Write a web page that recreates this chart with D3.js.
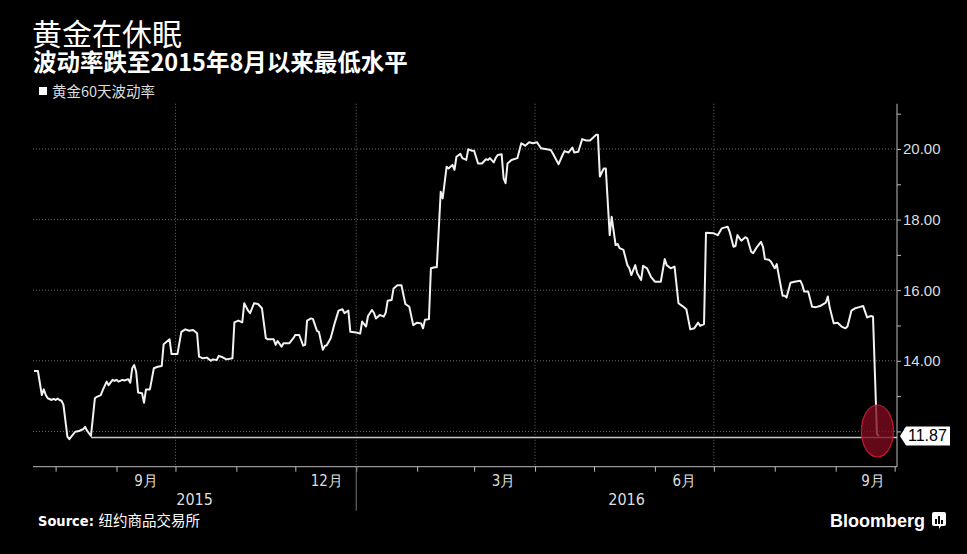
<!DOCTYPE html>
<html><head><meta charset="utf-8">
<script src="https://cdnjs.cloudflare.com/ajax/libs/d3/7.8.5/d3.min.js"></script>
<style>
html,body{margin:0;padding:0;background:#000;}
svg{display:block;}
</style></head>
<body>
<svg id="chart" width="967" height="554"></svg>
<script>
const titleText = "黄金在休眠";
const subtitleText = "波动率跌至2015年8月以来最低水平";
const seriesName = "黄金60天波动率";
const sourceText = "纽约商品交易所";
const lastLabel = "11.87";
const lowLevel = 11.87;
const lowStart = "2015-08-19";

const dates = [
"2015-07-21","2015-07-23","2015-07-25","2015-07-26","2015-07-27","2015-07-28","2015-07-30","2015-07-31",
"2015-08-01","2015-08-02","2015-08-03","2015-08-04","2015-08-05","2015-08-07","2015-08-08","2015-08-09",
"2015-08-11","2015-08-13","2015-08-14","2015-08-15","2015-08-16","2015-08-17","2015-08-19","2015-08-21",
"2015-08-22","2015-08-24","2015-08-25","2015-08-26","2015-08-27","2015-08-28","2015-08-30","2015-08-31",
"2015-09-01","2015-09-02","2015-09-04","2015-09-05","2015-09-07","2015-09-08","2015-09-09","2015-09-10",
"2015-09-11","2015-09-12","2015-09-14","2015-09-15","2015-09-16","2015-09-18","2015-09-20","2015-09-22",
"2015-09-24","2015-09-25","2015-09-28","2015-09-29","2015-10-02","2015-10-04","2015-10-06","2015-10-08",
"2015-10-10","2015-10-12","2015-10-13","2015-10-15","2015-10-17","2015-10-19","2015-10-20","2015-10-22",
"2015-10-23","2015-10-25","2015-10-27","2015-10-30","2015-10-31","2015-11-02","2015-11-04","2015-11-05",
"2015-11-07","2015-11-08","2015-11-10","2015-11-12","2015-11-14","2015-11-16","2015-11-17","2015-11-20",
"2015-11-21","2015-11-22","2015-11-24","2015-11-25","2015-11-26","2015-11-28","2015-11-30","2015-12-01",
"2015-12-03","2015-12-05","2015-12-06","2015-12-07","2015-12-09","2015-12-10","2015-12-12","2015-12-13",
"2015-12-15","2015-12-16","2015-12-17","2015-12-19","2015-12-21","2015-12-23","2015-12-25","2015-12-26",
"2015-12-28","2015-12-29","2016-01-01","2016-01-03","2016-01-04","2016-01-06","2016-01-07","2016-01-09",
"2016-01-10","2016-01-11","2016-01-13","2016-01-15","2016-01-16","2016-01-17","2016-01-19","2016-01-20",
"2016-01-22","2016-01-24","2016-01-26","2016-01-28","2016-01-30","2016-02-01","2016-02-03","2016-02-04",
"2016-02-05","2016-02-07","2016-02-08","2016-02-10","2016-02-11","2016-02-13","2016-02-14","2016-02-16",
"2016-02-17","2016-02-19","2016-02-20","2016-02-21","2016-02-23","2016-02-24","2016-02-26","2016-02-27",
"2016-02-29","2016-03-01","2016-03-03","2016-03-05","2016-03-07","2016-03-08","2016-03-09","2016-03-11",
"2016-03-12","2016-03-13","2016-03-15","2016-03-16","2016-03-17","2016-03-18","2016-03-20","2016-03-23",
"2016-03-25","2016-03-26","2016-03-27","2016-03-29","2016-03-31","2016-04-02","2016-04-04","2016-04-07",
"2016-04-09","2016-04-10","2016-04-13","2016-04-15","2016-04-16","2016-04-18","2016-04-20","2016-04-21",
"2016-04-23","2016-04-25","2016-04-27","2016-04-29","2016-05-02","2016-05-03","2016-05-04","2016-05-06",
"2016-05-07","2016-05-09","2016-05-10","2016-05-12","2016-05-13","2016-05-14","2016-05-16","2016-05-18",
"2016-05-19","2016-05-20","2016-05-22","2016-05-23","2016-05-25","2016-05-26","2016-05-28","2016-05-30",
"2016-06-01","2016-06-04","2016-06-06","2016-06-07","2016-06-09","2016-06-11","2016-06-13","2016-06-15",
"2016-06-17","2016-06-19","2016-06-21","2016-06-23","2016-06-24","2016-06-26","2016-06-27","2016-07-01",
"2016-07-03","2016-07-05","2016-07-08","2016-07-09","2016-07-11","2016-07-12","2016-07-13","2016-07-15",
"2016-07-17","2016-07-18","2016-07-20","2016-07-21","2016-07-23","2016-07-25","2016-07-26","2016-07-27",
"2016-07-29","2016-07-30","2016-08-01","2016-08-02","2016-08-03","2016-08-05","2016-08-06","2016-08-07",
"2016-08-09","2016-08-11","2016-08-14","2016-08-15","2016-08-16","2016-08-18","2016-08-20","2016-08-22",
"2016-08-24","2016-08-27","2016-08-28","2016-08-29","2016-08-31","2016-09-02","2016-09-04","2016-09-06",
"2016-09-07","2016-09-09","2016-09-11","2016-09-13","2016-09-15","2016-09-17","2016-09-19","2016-09-20",
"2016-09-22","2016-09-23"
];
const values = [
13.71,13.71,13.03,13.19,13.03,12.94,12.89,12.92,
12.89,12.93,12.89,12.87,12.75,11.85,11.78,11.85,
11.99,12.01,12.04,12.06,12.13,12.02,11.87,12.94,
12.98,13.03,13.17,13.29,13.41,13.31,13.46,13.43,
13.46,13.41,13.46,13.44,13.48,13.38,13.79,13.88,
13.69,13.10,13.08,12.81,13.19,13.19,13.79,13.83,
13.85,14.47,14.61,14.19,14.19,14.82,14.89,14.85,
14.87,14.78,14.12,14.07,14.09,14.00,14.04,14.02,
14.14,14.10,14.04,14.07,15.09,15.14,15.09,15.63,
15.42,15.35,15.63,15.61,15.49,14.64,14.61,14.61,
14.45,14.56,14.40,14.50,14.50,14.50,14.64,14.73,
14.73,14.43,14.45,15.14,15.20,15.18,14.85,14.82,
14.31,14.42,14.44,14.64,15.06,15.42,15.46,15.35,
15.42,14.82,14.80,14.77,15.11,14.97,15.27,15.44,
15.36,15.20,15.30,15.25,15.36,15.70,15.72,16.05,
16.14,16.14,15.61,15.53,15.01,15.08,15.06,14.92,
15.16,15.18,16.62,16.65,16.65,18.79,18.60,19.50,
19.45,19.55,19.41,19.78,19.86,19.74,19.69,19.99,
19.95,19.95,19.59,19.59,19.71,19.69,19.74,19.62,
19.75,19.83,19.85,19.17,19.03,19.59,19.69,19.74,
20.16,20.13,20.09,20.19,20.16,20.19,20.02,19.99,
19.97,19.88,19.57,19.83,19.94,19.90,20.04,19.90,
19.92,20.28,20.24,20.24,20.40,20.40,19.22,19.45,
19.45,17.56,18.08,17.28,17.31,17.19,17.14,16.71,
16.62,16.43,16.71,16.48,16.29,16.69,16.62,16.38,
16.24,16.24,16.88,16.71,16.62,16.67,15.63,15.55,
15.46,14.89,14.92,15.08,14.99,15.04,17.63,17.61,
17.56,17.75,17.80,17.66,17.23,17.25,17.56,17.40,
17.50,17.47,17.09,17.05,17.23,17.37,17.23,16.88,
16.86,16.81,16.62,16.74,16.43,15.84,15.84,15.79,
16.21,16.24,16.27,16.15,15.96,15.96,15.53,15.52,
15.55,15.65,15.82,15.50,15.06,15.08,14.97,14.92,
14.97,15.42,15.49,15.52,15.55,15.23,15.27,15.25,
11.93,11.87
];

// axis definitions
const yTickValues = [12,13,14,15,16,17,18,19,20,21];
const yLabelValues = [12,14,16,18,20];
const gridDates = ["2015-10-01","2016-01-01","2016-04-01","2016-07-01"];
const monthLabels = ["9月","12月","3月","6月","9月"];
const monthLabelDates = ["2015-09-16","2015-12-17","2016-03-16","2016-06-16","2016-09-20"];
const yearLabels = ["2015","2016"];
const yearBoundary = "2016-01-01";
const xDomain = ["2015-07-20T12:00Z","2016-10-02T05:00Z"];
const yDomain = [11, 21.28];

const parse = s => new Date(s.length === 10 ? s + "T00:00:00Z" : s);
const data = dates.map((d,i) => ({date: parse(d), value: values[i]}));

const svg = d3.select("#chart");
const W = 967, H = 554;
const plot = {left: 33, right: 897, top: 103.8, bottom: 466.7};

svg.append("rect").attr("width", W).attr("height", H).attr("fill", "#000");

const x = d3.scaleUtc().domain(xDomain.map(parse)).range([plot.left, plot.right]);
const y = d3.scaleLinear().domain(yDomain).range([plot.bottom, plot.top]);

const narrow = '"Liberation Sans Narrow","DejaVu Sans Condensed","Liberation Sans",sans-serif';
const cjk = '"Noto Sans CJK SC","Noto Sans",sans-serif';

// Title
svg.append("text").attr("x", 32).attr("y", 45)
  .attr("fill", "#fff").attr("font-family", cjk).attr("font-size", 30).attr("font-weight", 400)
  .text(titleText);
svg.append("text").attr("x", 33).attr("y", 71)
  .attr("fill", "#fff").attr("font-family", '"Noto Sans CJK SC","Open Sans",sans-serif').attr("font-size", 23.5).attr("font-weight", 700)
  .text(subtitleText);

// legend
svg.append("rect").attr("x", 39).attr("y", 87).attr("width", 8).attr("height", 8).attr("fill", "#fff");
svg.append("text").attr("x", 52).attr("y", 97).attr("fill", "#ddd")
  .attr("font-family", cjk).attr("font-size", 14.5).text(seriesName);

// grid
const grid = svg.append("g");
grid.selectAll("line.h").data(yLabelValues).join("line")
  .attr("x1", plot.left).attr("x2", plot.right)
  .attr("y1", d => y(d)).attr("y2", d => y(d))
  .attr("stroke", "#6a6a6a").attr("stroke-width", 1).attr("stroke-dasharray", "1,2");
grid.selectAll("line.v").data(gridDates).join("line")
  .attr("x1", d => x(parse(d))).attr("x2", d => x(parse(d)))
  .attr("y1", plot.top).attr("y2", plot.bottom)
  .attr("stroke", "#6a6a6a").attr("stroke-width", 1).attr("stroke-dasharray", "1,2");

// right axis
const yAxis = d3.axisRight(y).tickValues(yTickValues).tickSize(4)
  .tickFormat(d => yLabelValues.includes(d) ? d3.format(".2f")(d) : "");
const gy = svg.append("g").attr("transform", `translate(${plot.right},0)`).call(yAxis);
gy.select(".domain").attr("stroke", "#bbb").attr("d", `M0,${plot.top}V${plot.bottom}`);
gy.selectAll(".tick line").attr("stroke", "#bbb");
gy.selectAll(".tick text").attr("fill", "#ddd").attr("font-family", '"Liberation Sans",sans-serif')
  .attr("font-size", 15).attr("x", 6);

// bottom axis
const monthTicks = d3.utcMonth.range(parse("2015-08-01"), parse("2016-10-02"));
const xAxis = d3.axisBottom(x).tickValues(monthTicks).tickSize(5).tickFormat("");
const gx = svg.append("g").attr("transform", `translate(0,${plot.bottom})`).call(xAxis);
gx.select(".domain").attr("stroke", "#bbb").attr("d", `M${plot.left},0H${plot.right}`);
gx.selectAll(".tick line").attr("stroke", "#bbb");
svg.append("line").attr("x1", x(parse(yearBoundary))).attr("x2", x(parse(yearBoundary)))
  .attr("y1", plot.bottom).attr("y2", plot.bottom + 44).attr("stroke", "#777").attr("stroke-width", 1);

svg.append("g").selectAll("text").data(monthLabels).join("text")
  .attr("x", (d,i) => x(parse(monthLabelDates[i]))).attr("y", plot.bottom + 19)
  .attr("text-anchor", "middle").attr("fill", "#ddd")
  .attr("font-family", narrow).attr("font-size", 15).text(d => d);

const yearCenters = [
  (plot.left + x(parse(yearBoundary))) / 2,
  (x(parse(yearBoundary)) + plot.right) / 2
];
svg.append("g").selectAll("text").data(yearLabels).join("text")
  .attr("x", (d,i) => yearCenters[i]).attr("y", plot.bottom + 38)
  .attr("text-anchor", "middle").attr("fill", "#ddd")
  .attr("font-family", narrow).attr("font-size", 16).text(d => d);

// low reference line
svg.append("line")
  .attr("x1", x(parse(lowStart))).attr("x2", plot.right)
  .attr("y1", y(lowLevel) + 1.5).attr("y2", y(lowLevel) + 1.5)
  .attr("stroke", "#c8c8c8").attr("stroke-width", 1.5);

// data line
const line = d3.line().x(d => x(d.date)).y(d => y(d.value));
svg.append("path").datum(data).attr("d", line)
  .attr("fill", "none").attr("stroke", "#f2f2f2").attr("stroke-width", 2)
  .attr("stroke-linejoin", "round");

// highlight ellipse
const last = data[data.length - 1];
svg.append("ellipse")
  .attr("cx", x(last.date) - 1.5).attr("cy", y(last.value) - 5)
  .attr("rx", 16).attr("ry", 26)
  .attr("fill", "rgba(125,10,28,0.78)").attr("stroke", "#c01a32").attr("stroke-width", 1.2);

// last value label
const ly = y(lowLevel);
const lx = plot.right + 3;
svg.append("path")
  .attr("d", `M${lx},${ly} L${lx+6},${ly-9.5} H${lx+50} V${ly+9.5} H${lx+6} Z`)
  .attr("fill", "#fff");
svg.append("text").attr("x", lx + 8).attr("y", ly + 5.5)
  .attr("fill", "#000").attr("font-family", '"Liberation Sans",sans-serif').attr("font-size", 16)
  .text(lastLabel);

// footer
const src = svg.append("text").attr("x", 38).attr("y", 526).attr("fill", "#fff").attr("font-size", 14.5);
src.append("tspan").attr("font-family", narrow).attr("font-weight", 700).text("Source: ");
src.append("tspan").attr("font-family", cjk).text(sourceText);

svg.append("text").attr("x", 925).attr("y", 527).attr("text-anchor", "end")
  .attr("fill", "#fff").attr("font-family", '"Liberation Sans Narrow","Liberation Sans",sans-serif')
  .attr("font-weight", 700).attr("font-size", 18).text("Bloomberg");
const ic = svg.append("g").attr("transform", "translate(932,512)");
ic.append("rect").attr("width", 14).attr("height", 14).attr("rx", 2).attr("fill", "#fff");
ic.append("path").attr("d", "M7,14 L7,17 L9,14 Z").attr("fill", "#fff");
[[3,7],[6,4],[9,8]].forEach(([bx,by]) => {
  ic.append("rect").attr("x", bx).attr("y", by).attr("width", 2).attr("height", 12 - by).attr("fill", "#000");
});
</script>
</body></html>
